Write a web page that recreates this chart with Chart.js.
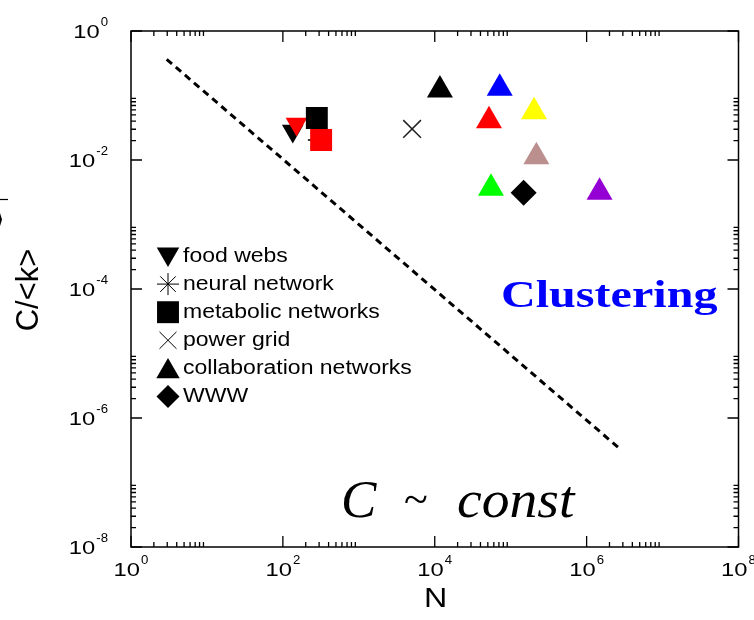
<!DOCTYPE html>
<html>
<head>
<meta charset="utf-8">
<script src="https://cdn.jsdelivr.net/npm/chart.js@4.4.1/dist/chart.umd.min.js"></script>
<style>
  html, body { margin: 0; padding: 0; background: #fff; }
  #wrap { width: 754px; height: 620px; }
</style>
</head>
<body>
<div id="wrap"><canvas id="c" width="754" height="620"></canvas></div>
<script>
// values (N, C/<k>)
const foodWebN = [135, 151];
const foodWebC = [0.0282, 0.0361];
const foodWebColors = ['#000000', '#ff0000'];

const neuralN = [289];
const neuralC = [0.0204];

const metabolicN = [280, 319];
const metabolicC = [0.0448, 0.0204];
const metabolicColors = ['#000000', '#ff0000'];

const powerGridN = [5030];
const powerGridC = [0.0303];

const collabN = [11700, 71700, 51800, 203000, 218000, 55000, 1480000];
const collabC = [0.1217, 0.129, 0.0407, 0.0561, 0.01125, 0.00364, 0.00316];
const collabColors = ['#000000', '#0000ff', '#ff0000', '#ffff00', '#bc8f8f', '#00ff00', '#9400d3'];

const wwwN = [148000];
const wwwC = [0.0031];

// dashed reference line, end points
const refLineN = [2.95, 2.86e6];
const refLineC = [0.364, 3.19e-7];

// axes
const xTicks = [1, 1e2, 1e4, 1e6, 1e8];
const xTickExp = ['0', '2', '4', '6', '8'];
const yTicks = [1, 1e-2, 1e-4, 1e-6, 1e-8];
const yTickExp = ['0', '-2', '-4', '-6', '-8'];
const xMinorDecades = [1, 1e2, 1e4, 1e6];
const yMinorDecades = [1e-2, 1e-4, 1e-6, 1e-8];
const minorMantissas = [2, 3, 4, 5, 6, 7, 8, 9];

const legendLabels = ['food webs', 'neural network', 'metabolic networks', 'power grid', 'collaboration networks', 'WWW'];
const legendStyles = [
  { pointStyle: 'triangle', rotation: 180, radius: 13, fill: true },
  { pointStyle: 'star', rotation: 0, radius: 11, fill: false },
  { pointStyle: 'rect', rotation: 0, radius: 15.5, fill: true },
  { pointStyle: 'crossRot', rotation: 0, radius: 12, fill: false },
  { pointStyle: 'triangle', rotation: 0, radius: 13.5, fill: true },
  { pointStyle: 'rectRot', rotation: 0, radius: 11.5, fill: true },
];

const pts = (xs, ys) => xs.map((x, i) => ({ x: x, y: ys[i] }));
const SANS = '"Liberation Sans", Arial, sans-serif';
const SERIF = '"Liberation Serif", "Times New Roman", serif';

function stretchText(ctx, s, x, y, font, align, sx) {
  ctx.save();
  ctx.font = font;
  ctx.textAlign = align;
  ctx.translate(x, y);
  ctx.scale(sx, 1);
  ctx.fillText(s, 0, 0);
  ctx.restore();
}

function powerLabel(ctx, exp, x, y, anchor) {
  const sx = 1.25;
  ctx.save();
  ctx.font = '19px ' + SANS;
  const wBase = ctx.measureText('10').width * sx;
  ctx.font = '12px ' + SANS;
  const wExp = ctx.measureText(exp).width * 1.1;
  ctx.restore();
  const total = wBase + wExp + 1;
  const x0 = anchor === 'center' ? x - total / 2 : x - total;
  ctx.textBaseline = 'alphabetic';
  stretchText(ctx, '10', x0, y + 6.5, '19px ' + SANS, 'left', sx);
  stretchText(ctx, exp, x0 + wBase + 1, y - 5.5, '12px ' + SANS, 'left', 1.1);
}

const framePlugin = {
  id: 'frame',
  beforeDatasetsDraw(chart) {
    const { ctx, chartArea: a, scales } = chart;
    const xs = scales.x, ys = scales.y;
    ctx.save();
    ctx.strokeStyle = '#000';
    ctx.lineWidth = 1.5;
    ctx.strokeRect(a.left, a.top, a.right - a.left, a.bottom - a.top);
    ctx.lineWidth = 1.3;
    ctx.beginPath();
    const major = 11, minor = 5;
    xTicks.forEach(v => {
      const p = xs.getPixelForValue(v);
      ctx.moveTo(p, a.bottom); ctx.lineTo(p, a.bottom - major);
      ctx.moveTo(p, a.top); ctx.lineTo(p, a.top + major);
    });
    xMinorDecades.forEach(d => minorMantissas.forEach(m => {
      const p = xs.getPixelForValue(d * m);
      ctx.moveTo(p, a.bottom); ctx.lineTo(p, a.bottom - minor);
      ctx.moveTo(p, a.top); ctx.lineTo(p, a.top + minor);
    }));
    yTicks.forEach(v => {
      const p = ys.getPixelForValue(v);
      ctx.moveTo(a.left, p); ctx.lineTo(a.left + major, p);
      ctx.moveTo(a.right, p); ctx.lineTo(a.right - major, p);
    });
    yMinorDecades.forEach(d => minorMantissas.forEach(m => {
      const p = ys.getPixelForValue(d * m);
      ctx.moveTo(a.left, p); ctx.lineTo(a.left + minor, p);
      ctx.moveTo(a.right, p); ctx.lineTo(a.right - minor, p);
    }));
    ctx.stroke();

    ctx.fillStyle = '#000';
    xTicks.forEach((v, i) => powerLabel(ctx, xTickExp[i], xs.getPixelForValue(v), a.bottom + 22, 'center'));
    yTicks.forEach((v, i) => powerLabel(ctx, yTickExp[i], a.left - 23, ys.getPixelForValue(v), 'right'));

    // axis titles
    ctx.textBaseline = 'middle';
    stretchText(ctx, 'N', (a.left + a.right) / 2 + 1, a.bottom + 52, '28px ' + SANS, 'center', 1.15);
    ctx.save();
    ctx.translate(29, 290);
    ctx.rotate(-Math.PI / 2);
    ctx.font = '31px ' + SANS;
    ctx.textAlign = 'center';
    ctx.fillText('C/<k>', 0, 0);
    ctx.restore();
    ctx.restore();
  },
  afterDraw(chart) {
    const { ctx } = chart;
    ctx.save();
    // legend
    const drawPoint = Chart.helpers && Chart.helpers.drawPoint;
    ctx.textBaseline = 'middle';
    legendLabels.forEach((label, i) => {
      const y = 256 + i * 28.1;
      const st = legendStyles[i];
      ctx.fillStyle = '#000';
      ctx.strokeStyle = '#000';
      if (drawPoint) {
        drawPoint(ctx, {
          pointStyle: st.pointStyle,
          radius: st.radius,
          rotation: st.rotation,
          borderWidth: st.fill ? 0 : 1.5,
        }, 168, st.pointStyle === 'triangle' ? y + (st.rotation ? -2 : 3) : y);
      }
      stretchText(ctx, label, 183, y, '20px ' + SANS, 'left', 1.15);
    });

    // annotations
    ctx.textBaseline = 'alphabetic';
    ctx.fillStyle = '#0000ff';
    stretchText(ctx, 'Clustering', 501, 307, 'bold 37px ' + SERIF, 'left', 1.3);
    ctx.fillStyle = '#000';
    stretchText(ctx, 'C', 341, 517, 'italic 53px ' + SERIF, 'left', 1);
    stretchText(ctx, '~', 404, 514, '44px ' + SERIF, 'left', 1);
    stretchText(ctx, 'const', 457, 517, 'italic 53px ' + SERIF, 'left', 1.05);

    // cropped fragment at the left edge
    stretchText(ctx, '\u27E9', -7, 229, '30px ' + SERIF, 'left', 1);
    ctx.strokeStyle = '#000';
    ctx.lineWidth = 1.2;
    ctx.beginPath();
    ctx.moveTo(0, 199.5); ctx.lineTo(8, 199.5);
    ctx.stroke();
    ctx.restore();
  },
};

new Chart(document.getElementById('c'), {
  type: 'scatter',
  data: {
    datasets: [
      {
        label: 'WWW', order: 1,
        data: pts(wwwN, wwwC),
        pointStyle: 'rectRot', pointRadius: 13,
        backgroundColor: '#000', borderColor: '#000', borderWidth: 0,
      },
      {
        label: 'collaboration networks', order: 2,
        data: pts(collabN, collabC),
        pointStyle: 'triangle', pointRadius: 15,
        backgroundColor: collabColors, borderColor: collabColors, borderWidth: 0,
      },
      {
        label: 'power grid', order: 3,
        data: pts(powerGridN, powerGridC),
        pointStyle: 'crossRot', pointRadius: 12.5,
        backgroundColor: '#000', borderColor: '#222', borderWidth: 1.5,
      },
      {
        label: 'metabolic networks', order: 4,
        data: pts(metabolicN, metabolicC),
        pointStyle: 'rect', pointRadius: 15.5,
        backgroundColor: metabolicColors, borderColor: metabolicColors, borderWidth: 0,
      },
      {
        label: 'food webs', order: 5,
        data: pts(foodWebN, foodWebC),
        pointStyle: 'triangle', rotation: 180, pointRadius: 12.5,
        backgroundColor: foodWebColors, borderColor: foodWebColors, borderWidth: 0,
      },
      {
        label: 'neural network', order: 6,
        data: pts(neuralN, neuralC),
        pointStyle: 'star', pointRadius: 10,
        backgroundColor: '#000', borderColor: '#000', borderWidth: 1.5,
      },
      {
        type: 'line', label: 'C/<k> ~ 1/N', order: 7,
        data: pts(refLineN, refLineC),
        borderColor: '#000', borderWidth: 3, borderDash: [7, 5],
        pointRadius: 0, fill: false, tension: 0,
      },
    ],
  },
  options: {
    responsive: false,
    animation: false,
    devicePixelRatio: 1,
    layout: { padding: { left: 131, right: 15, top: 31, bottom: 73 } },
    scales: {
      x: { type: 'logarithmic', min: 1, max: 1e8, display: false },
      y: { type: 'logarithmic', min: 1e-8, max: 1, display: false },
    },
    plugins: {
      legend: { display: false },
      tooltip: { enabled: false },
    },
  },
  plugins: [framePlugin],
});
</script>
</body>
</html>
